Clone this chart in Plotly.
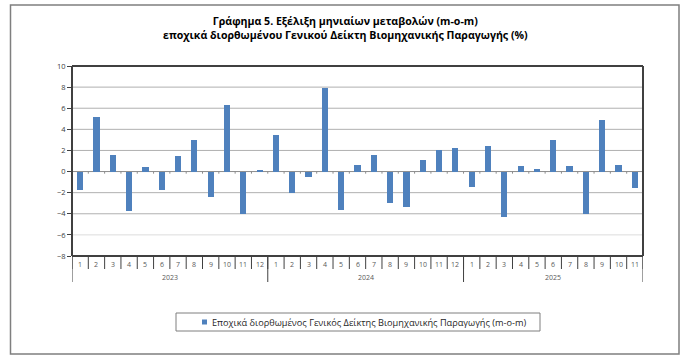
import plotly.graph_objects as go

years = ["2023", "2024", "2025"]
months_per_year = [12, 12, 11]
month_labels = [str(m) for m in range(1, 13)] * 2 + [str(m) for m in range(1, 12)]
values = [
    -1.75, 5.2, 1.6, -3.75, 0.4, -1.75, 1.5, 3.0, -2.45, 6.3, -4.05, 0.15,
    3.45, -2.05, -0.5, 7.95, -3.65, 0.65, 1.55, -2.95, -3.4, 1.1, 2.0, 2.2,
    -1.45, 2.4, -4.35, 0.55, 0.25, 3.0, 0.5, -4.05, 4.9, 0.65, -1.6,
]
series_name = "Εποχικά διορθωμένος Γενικός Δείκτης Βιομηχανικής Παραγωγής (m-o-m)"
title_lines = ["Γράφημα 5. Εξέλιξη μηνιαίων μεταβολών (m-o-m)",
               "εποχικά διορθωμένου Γενικού Δείκτη Βιομηχανικής Παραγωγής (%)"]
y_ticks = [-8, -6, -4, -2, 0, 2, 4, 6, 8, 10]

x_pos = list(range(len(values)))
n = len(values)

L, R, T, B = 72, 40, 66, 108
W, H = 683, 364
pw, ph = W - L - R, H - T - B

def py(pix):  # pixel y -> paper y
    return (H - B - pix) / ph

def px(pix):
    return (pix - L) / pw

font = "Open Sans, Liberation Sans, sans-serif"

fig = go.Figure()
fig.add_trace(go.Bar(x=x_pos, y=values, marker=dict(color="#4F81BD", line=dict(width=0)),
                     width=0.38, name=series_name, showlegend=False))

shapes = []
annotations = []

# grid lines
for t in y_ticks:
    if t in (-8, 10, 0):
        continue
    col = "#dcdcdc" if t == -6 else "#b0b0b0"
    shapes.append(dict(type="line", xref="paper", yref="y", x0=0, x1=1, y0=t, y1=t,
                       line=dict(color=col, width=1), layer="below"))
# zero line
shapes.append(dict(type="line", xref="paper", yref="y", x0=0, x1=1, y0=0, y1=0,
                   line=dict(color="#8c8c8c", width=1), layer="below"))
# small ticks on zero line
for i in range(n + 1):
    shapes.append(dict(type="line", xref="x", yref="y", x0=i - 0.5, x1=i - 0.5, y0=0, y1=-0.2,
                       line=dict(color="#8c8c8c", width=1)))

# plot frame
shapes.append(dict(type="line", xref="paper", yref="paper", x0=0, x1=1, y0=1, y1=1,
                   line=dict(color="#000000", width=1.5)))
shapes.append(dict(type="line", xref="paper", yref="paper", x0=1, x1=1, y0=0, y1=1,
                   line=dict(color="#404040", width=2)))
shapes.append(dict(type="line", xref="paper", yref="paper", x0=0, x1=0, y0=0, y1=1,
                   line=dict(color="#404040", width=2)))
shapes.append(dict(type="line", xref="paper", yref="paper", x0=0, x1=1, y0=0, y1=0,
                   line=dict(color="#404040", width=2)))

# month separators and labels
for i in range(n + 1):
    shapes.append(dict(type="line", xref="x", yref="paper", x0=i - 0.5, x1=i - 0.5,
                       y0=0, y1=py(269), line=dict(color="#404040", width=1)))
for i, lab in enumerate(month_labels):
    annotations.append(dict(x=i, y=py(264), xref="x", yref="paper", text=lab, showarrow=False,
                            font=dict(size=7, color="#595959", family=font),
                            xanchor="center", yanchor="middle"))

# year separators and labels
start = 0
bounds = [start]
for m in months_per_year:
    start += m
    bounds.append(start)
for b in bounds:
    shapes.append(dict(type="line", xref="x", yref="paper", x0=b - 0.5, x1=b - 0.5,
                       y0=0, y1=py(282), line=dict(color="#404040", width=1)))
for k, yr in enumerate(years):
    mid = (bounds[k] + bounds[k + 1] - 1) / 2
    annotations.append(dict(x=mid, y=py(277.5), xref="x", yref="paper", text=yr, showarrow=False,
                            font=dict(size=7, color="#595959", family=font),
                            xanchor="center", yanchor="middle"))

# outer border
shapes.append(dict(type="rect", xref="paper", yref="paper", x0=px(10.5), x1=px(679), y0=py(5), y1=py(354),
                   line=dict(color="#7f7f7f", width=1.5)))

# legend box
shapes.append(dict(type="rect", xref="paper", yref="paper", x0=px(176), x1=px(540), y0=py(313), y1=py(331),
                   line=dict(color="#7f7f7f", width=1)))
shapes.append(dict(type="rect", xref="paper", yref="paper", x0=px(202), x1=px(207), y0=py(319.5), y1=py(324.5),
                   fillcolor="#4F81BD", line=dict(width=0)))
annotations.append(dict(x=px(210), y=py(322), xref="paper", yref="paper", text=series_name,
                        showarrow=False, xanchor="left", yanchor="middle",
                        font=dict(size=9.2, color="#262626", family=font)))

# title
annotations.append(dict(x=px(345), y=py(28), xref="paper", yref="paper",
                        text="<b>" + title_lines[0] + "</b><br><b>" + title_lines[1] + "</b>",
                        showarrow=False, xanchor="center", yanchor="middle",
                        font=dict(size=10.6, color="#000000", family=font)))

fig.update_layout(
    width=W, height=H,
    margin=dict(l=L, r=R, t=T, b=B),
    paper_bgcolor="white", plot_bgcolor="white",
    bargap=0,
    showlegend=False,
    shapes=shapes, annotations=annotations,
    xaxis=dict(range=[-0.5, n - 0.5], showticklabels=False, showgrid=False, zeroline=False,
               showline=False, ticks=""),
    yaxis=dict(range=[-8, 10], tickvals=y_ticks, showgrid=False, zeroline=False, showline=False,
               ticks="outside", ticklen=4, tickcolor="#404040",
               tickfont=dict(size=7.5, color="#404040", family=font)),
    font=dict(family=font),
)

fig.write_html("out.html", config={"displayModeBar": False},
               post_script="document.body.style.margin='0';document.body.style.overflow='hidden';")
